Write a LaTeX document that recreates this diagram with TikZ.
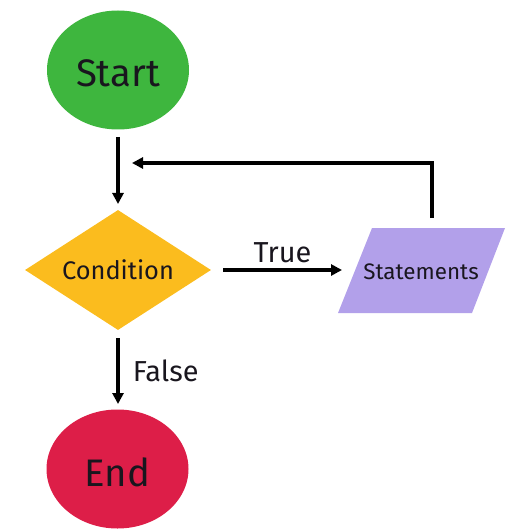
\documentclass[tikz,border=0pt]{standalone}
\usepackage{fontspec}
\setmainfont{Fira Sans}
\usetikzlibrary{shapes.geometric,arrows.meta}
\definecolor{cgreen}{RGB}{62,182,62}
\definecolor{cyellow}{RGB}{251,188,30}
\definecolor{cpurple}{RGB}{178,160,234}
\definecolor{cred}{RGB}{221,30,72}
\definecolor{ctext}{RGB}{25,22,30}
\tikzset{
  term/.style={ellipse, minimum width=142bp, minimum height=119bp, inner sep=0pt, text=ctext, text height=34bp, text depth=0bp, font=\fontsize{38.5}{42}\selectfont},
  cond/.style={diamond, aspect=1.55, minimum width=186bp, minimum height=120bp, inner sep=0pt, fill=cyellow, text=ctext, font=\fontsize{25.5}{28}\selectfont},
  stmtbox/.style={minimum width=130bp, minimum height=85bp, inner sep=0pt, text=ctext, font=\fontsize{22.5}{24}\selectfont},
  conn/.style={line width=3.2bp, -{Triangle[length=11bp,width=11bp]}},
  lab/.style={text=ctext, font=\fontsize{29}{32}\selectfont}
}
\begin{document}
\begin{tikzpicture}[x=1bp,y=-1bp]
\useasboundingbox (0,0) rectangle (506,529);
\node[term, fill=cgreen] (start) at (118,70) {Start};
\node[cond] (cond) at (118,270) {Condition};
\fill[cpurple] (372,228) -- (505,228) -- (472,313) -- (338,313) -- cycle;
\node[stmtbox] (stmt) at (421,272) {Statements};
\node[term, fill=cred] (end) at (117.5,469) {End};
\coordinate (s1) at (118,137);
\coordinate (c1) at (118,204);
\coordinate (c2) at (223,270);
\coordinate (st1) at (342,270);
\coordinate (st2) at (432,218);
\coordinate (cor) at (432,163);
\coordinate (fb) at (132,163);
\coordinate (c3) at (118,338);
\coordinate (e1) at (118,404);
\draw[conn] (s1) -- (c1);
\draw[conn] (c2) -- node[lab, above=2bp] {True} (st1);
\draw[conn] (st2) -- (cor) -- (fb);
\draw[conn] (c3) -- node[lab, right=10bp] {False} (e1);
\end{tikzpicture}
\end{document}
